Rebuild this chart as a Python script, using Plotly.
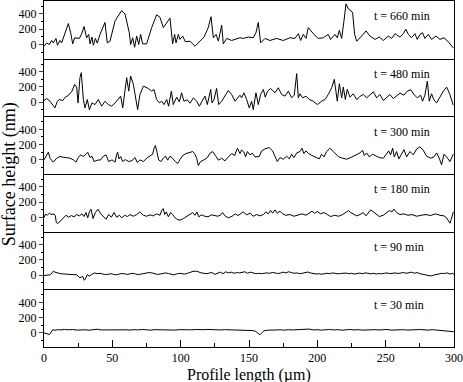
import plotly.graph_objects as go
from plotly.subplots import make_subplots

# profils de surface (x en µm, hauteur en nm)
x_660 = [0, 2, 3.9, 5.6, 6.8, 8.8, 9.8, 11.7, 12.9, 14.1, 15.6, 17.8, 19.5, 21, 22.4, 25.9, 27.6, 29.3,
         31.2, 32.7, 33.7, 35.1, 36.1, 37.6, 39, 41, 44.6, 46.3, 48.3, 52, 56.8, 59.3, 62.4, 63.4, 64.9,
         66.3, 67.8, 69.3, 70.7, 72.2, 75.1, 78.8, 82.4, 84.9, 87.3, 91, 92.2, 94.1, 95.6, 96.6, 98.3,
         99.5, 101.5, 103.4, 106.8, 110.5, 114.1, 117.1, 120.2, 122.2, 123.9, 125.9, 127.6, 130, 131.2,
         133.7, 137.3, 141, 143.4, 145.8, 149.5, 153.1, 155.1, 156.8, 158.5, 161.7, 165.3, 170.2, 175.1,
         180, 183.6, 186.1, 187.8, 189.7, 191.7, 193.4, 195.1, 197.5, 200.7, 204.4, 208, 209.7, 212.9,
         214.6, 216.1, 217.8, 219.5, 221, 222.7, 225.8, 227.3, 228.8, 232.4, 235.6, 238.5, 242.2, 245.3,
         248.3, 251.9, 254.4, 256.8, 260.5, 262.9, 264.8, 266.6, 269, 271.4, 273.1, 275.1, 277, 278.7,
         281.2, 283.6, 286.8, 289.7, 292.7, 295.8, 299.5]
h_660 = [-22, 22, 0, 53, 22, 80, -9, 53, 22, 80, 178, 275, 155, 9, 89, 80, 142, 235,
         89, 133, 9, 98, -9, 80, 18, 133, 289, 22, 44, 311, 444, 400, 155, 0, 89,
         -36, 111, 0, 133, 9, 9, 222, 390, 355, 222, 311, 346, 9, 133, 22, 133,
         67, 111, 36, 44, -22, 44, 98, 222, 364, 89, 133, 44, 253, 9,
         80, 53, 80, 89, 80, 98, 89, 155, 289, 22, 80, 53, 80, 53,
         89, 80, 142, 53, 133, 80, 222, 178, 133, 80, 89, 133, 67, 133,
         89, 186, 80, 311, 533, 466, 422, 133, 44, 111, 178, 111, 67, 98,
         53, 111, 80, 142, 98, 142, 200, 133, 89, 142, 67, 133, 155, 80,
         133, 67, 111, 67, 89, 36, -44]

x_480 = [0, 2, 4.4, 6.3, 8, 9.8, 11.2, 13.7, 15.6, 18, 20.5, 22.4, 23.9, 24.9, 26.3, 27.3, 28.8, 30,
         31.7, 33.2, 35.1, 37.3, 39.8, 42.2, 44.6, 47.1, 49.5, 52, 54.4, 56.1, 57.6, 59.3, 60.5, 62,
         63.4, 65.4, 66.8, 68.5, 70.2, 72.7, 76.3, 78.8, 80.5, 82.4, 84.4, 86.1, 87.8, 89.8, 91.2, 93.2,
         94.6, 97.1, 99, 100.7, 102.4, 104.9, 106.8, 109.3, 111.7, 113.7, 115.6, 117.8, 119.5, 121, 122,
         122.9, 124.4, 126.3, 127.8, 130, 132.4, 134.9, 137.3, 139.8, 143.4, 144.6, 146.3, 148.3, 150.2,
         151.9, 153.1, 155.1, 156.8, 158.5, 160.5, 161.9, 163.6, 165.8, 169, 171.4, 173.9, 176.3, 178.8,
         181.2, 183.1, 184.9, 186.1, 187.3, 189.2, 191.7, 194.1, 197, 200, 203.1, 205.6, 208, 210.5,
         212.4, 213.6, 214.6, 216.1, 217.8, 219, 220.5, 221.9, 223.9, 226.3, 228.8, 231.2, 233.6, 236.1,
         239, 241, 243.4, 245.8, 248.3, 250.7, 253.1, 255.6, 258, 260.5, 263.4, 265.8, 268.3, 270.7,
         273.1, 275.6, 277, 278.7, 280.5, 281.9, 283.6, 285.3, 287.3, 289.7, 292.2, 294.6, 297, 299.5]
h_480 = [22, 48, 13, -31, -75, 13, 35, 22, 66, 92, 145, 233, 198, -9, 321, 387, 35, -75,
         35, -97, -9, -31, 35, -53, 13, -31, -53, -9, 35, 79, -75, 167, 321, 145,
         343, 233, 57, -97, 101, 211, 180, 145, 167, 35, -9, 13, -31, 35, -53, 145,
         -31, 66, 4, 123, 13, 31, -13, 57, 13, -53, 13, 79, -31, 110, 167,
         -9, 35, 180, -31, 13, 79, 154, 101, 13, 92, 57, 123, 35, -75,
         13, -97, 123, -31, 101, 167, 66, 145, 180, 123, 189, 101, 79, 145,
         57, 92, 374, 57, 110, 57, 79, 35, 13, -31, 13, 35, 101, 189,
         299, 145, 13, 242, 57, 198, 35, 167, 66, 110, 35, 75, 101, 57,
         110, 136, 57, 101, 22, 66, 101, 48, 84, 119, 92, 145, 163, 101,
         57, 92, 13, 92, 277, 13, 110, 31, -9, 66, 145, 198, 101, -40]

x_300 = [0, 1.5, 3.2, 4.4, 6.8, 9.3, 11.7, 14.1, 16.6, 19, 21.5, 23.4, 25.1, 26.8, 28.8, 30.7, 32, 33.7,
         35.1, 36.6, 39, 41.5, 43.4, 45.4, 47.3, 49.8, 52, 53.2, 53.9, 54.9, 56.1, 57.6, 59.5, 62, 64.4,
         66.6, 68.3, 70.2, 72.7, 75.1, 77.6, 79.5, 80.5, 81.5, 82.7, 83.9, 85.6, 87.3, 89, 90.5, 92.2,
         94.1, 96.1, 97.8, 99.5, 101.5, 103.9, 106.3, 108.8, 110.2, 111.7, 112.9, 114.6, 117.1, 119.5,
         121.5, 123.4, 125.4, 127.6, 130, 132.4, 134.9, 137.3, 139.5, 141.5, 143.4, 144.6, 146.3, 147.5,
         148.8, 150.7, 152.4, 154.4, 157.5, 159.2, 161.7, 164.8, 167.3, 169, 170.7, 172.7, 175.1, 177.5,
         179.5, 181.2, 182.9, 184.9, 187.3, 188.8, 190.2, 191.7, 193.6, 196.1, 198.5, 201.4, 203.1, 204.9,
         206.8, 209.2, 211.7, 213.6, 215.6, 218.5, 221.4, 224.4, 226.8, 229.2, 231.2, 233.1, 234.4, 236.1,
         238, 240.5, 242.9, 245.3, 248.3, 250.7, 252.2, 253.6, 255.1, 256.3, 258, 259.7, 261.7, 263.4,
         265.3, 267.8, 270.2, 272.7, 275.1, 277.5, 280, 282.9, 285.3, 287.3, 289.2, 290.9, 292.7, 294.6,
         297, 299.5]
h_300 = [0, 44, 100, 22, -30, 22, 44, 35, 30, 22, 0, -30, 30, 65, 44, 83, 100, 30,
         48, -22, -4, 0, 48, 65, -22, 0, -30, 74, 100, 13, 44, -22, 4, -22, -9,
         30, -35, 0, -22, 22, 48, 74, 152, 187, 100, 0, -22, 22, 48, -4, 48,
         22, -22, -48, 4, 57, 83, 100, 109, 83, 22, -74, -22, 0, 30,
         87, 109, 57, -4, 22, -13, 39, 83, 57, 152, 83, 130, 100, 39,
         109, 65, 87, 39, 44, 117, 144, 161, 117, 57, -22, 30, 9, 48,
         13, 74, 30, 91, 109, 152, 83, 117, 83, 57, 39, 13, 74, 39,
         109, 152, 109, 74, 39, 22, 9, 30, 48, 74, 91, 126, 57, 91,
         39, 74, 57, 30, 22, 74, 117, 65, 152, 39, 109, 13, 74, 135,
         39, 109, 65, 144, 170, 126, 48, 22, 39, 91, 22, -65, 74, 39,
         -22, 74]

x_180 = [0, 1, 2.4, 3.9, 5.6, 7.3, 8.3, 9, 10.2, 12.2, 14.1, 16.1, 18, 20, 22, 23.9, 25.9, 27.8, 29.3,
         30.7, 32, 33.2, 34.4, 35.9, 37.6, 39.5, 41.5, 43.4, 45.4, 47.3, 49.3, 51.2, 53.2, 55.1, 57.1,
         59, 61, 62.9, 65.4, 67.8, 70.2, 72.7, 75.1, 77.6, 80, 82.4, 84.9, 86.3, 87.3, 88.3, 89.5, 91,
         92.7, 94.1, 95.9, 97.6, 99.5, 102, 104.4, 106.8, 108.8, 110.5, 111.9, 113.2, 115.1, 117.6, 120,
         122.4, 124.9, 127.3, 129.3, 130.7, 132.7, 135.1, 137.6, 140, 142, 145.8, 148.3, 150.7, 153.1,
         155.6, 158, 160.5, 162.4, 164.1, 165.8, 167.3, 169, 170.7, 172.7, 174.6, 177, 180, 182.9, 185.8,
         188.8, 191.7, 194.1, 196.1, 198, 200, 202.4, 204.9, 207.3, 209.7, 212.6, 215.6, 218.5, 220.9,
         222.9, 224.4, 226.3, 228.8, 231.2, 233.6, 235.6, 237.5, 239, 241, 242.9, 245.3, 248.3, 250.7,
         252.7, 254.6, 256.1, 258, 260.5, 263.4, 266.3, 269.2, 272.7, 276.1, 279.5, 282.9, 286.3, 289.7,
         292.7, 294.6, 296.1, 297, 298, 299, 299.5]
h_180 = [0, 44, 30, 57, 39, 48, 22, -65, -78, -44, -4, 30, 4, 26, 9, 39, 22, 48, 13,
         65, -4, 74, 109, -13, 65, 109, 48, 13, -22, 39, 4, 65, 4, 30, -4,
         30, 13, 39, 17, 39, 74, 30, 17, 35, 22, 48, 30, 100, 117, 39, 74, 9,
         65, 39, -4, -26, -35, -13, 13, 35, 65, 30, 74, 9, 35, 17, 9,
         35, 26, 17, 35, 65, 17, -4, 17, 48, 26, 74, 35, 57, 17,
         39, 22, 39, 74, 48, 91, 57, 100, 57, 83, 48, 30, 39, 17, 35,
         48, 30, 61, 83, 57, 78, 48, 65, 39, 13, 30, 17, 39, 65,
         91, 65, 48, 22, 39, 65, 22, 61, 100, 74, 48, 13, 30, 57,
         91, 74, 109, 65, 39, 48, 30, 39, 17, 30, 39, 26, 48, 30,
         22, -4, -48, -74, -22, 30, 74]

x_90 = [0, 2, 4, 5, 6.8, 8, 10, 12, 15, 18, 21, 24, 26.3, 27.3, 28.3, 29.5, 30.7, 31.7, 33, 35, 37,
        39, 41, 43, 45, 47, 49, 51, 53, 55, 57, 59, 61, 63, 65, 67, 69, 71, 73, 75, 77, 79, 81, 83,
        85, 87, 89, 91, 93, 95, 97, 99, 101, 103, 105, 107, 109, 111.7, 113, 115, 117, 119, 121, 123,
        125, 127, 129, 131, 133, 135, 137, 139, 141, 143, 145, 147, 149, 151, 153, 155, 157, 159, 161,
        163, 165, 167, 169, 171, 173, 175, 177, 179, 181, 183, 185, 187, 189, 191, 193, 195, 197, 199,
        201, 203, 205, 207, 209, 211, 213, 215, 217, 219, 221, 223, 225, 227, 229, 231, 233, 235, 237,
        239, 241, 243, 245, 247, 249, 251, 253, 255, 257, 259, 261, 263, 265, 267, 269, 271, 273, 275,
        277, 279, 281, 283, 285, 287, 289, 291, 293, 295, 297, 299, 300]
h_90 = [-5, -3, 5, 10, 53, 40, 25, 20, 15, 10, 8, 5, -35, -20, -15, -66, -35, 9, -13, 10, 30,
        20, 25, 15, 8, 12, 20, 10, 5, 15, 22, 18, 10, 18, 25, 15, 8, 15, 20, 25, 35, 30, 18, 10,
        15, 25, 30, 22, 12, 5, 15, 25, 20, 15, 25, 35, 50, 53, 40, 30, 25, 20, 28, 35,
        10, 30, 40, 20, 45, 30, 40, 25, 35, 30, 35, 45, 25, 40, 30, 20, 25, 20, 25,
        30, 25, 35, 30, 22, 28, 40, 30, 45, 35, 25, 30, 20, 25, 35, 42, 30, 25, 15,
        20, 12, 18, 25, 20, 30, 25, 18, 22, 30, 28, 20, 25, 15, 22, 28, 20, 30, 25,
        18, 25, 15, 22, 18, 25, 30, 20, 25, 30, 22, 28, 35, 25, 30, 40, 25, 35, 20,
        10, 5, -5, -10, 0, 10, 20, 25, 22, 30, 15, 25, 10]

x_30 = [0, 2, 4, 5, 6.3, 8, 10, 12, 15, 18, 21, 24, 27, 30, 33, 36, 39, 42, 45, 48, 51, 54, 57, 60,
        63, 66, 69, 72, 75, 78, 81, 84, 87, 90, 93, 96, 99, 102, 105, 108, 111, 114, 117, 120, 123,
        126, 129, 132, 135, 138, 141, 144, 147, 150, 153, 155, 157, 158, 159.5, 161, 164, 167, 170,
        173, 176, 179, 182, 185, 188, 191, 194, 197, 200, 203, 206, 209, 212, 215, 218, 221, 224, 227,
        230, 233, 236, 239, 242, 245, 248, 251, 254, 257, 260, 263, 266, 269, 272, 275, 278, 281, 284,
        287, 290, 293, 296, 298, 300]
h_30 = [0, -13, -22, 4, 40, 35, 42, 38, 45, 40, 44, 36, 42, 40, 35, 42, 48, 38, 40, 35, 42, 38, 44, 40,
        36, 42, 38, 45, 40, 36, 42, 40, 44, 38, 40, 36, 42, 38, 35, 40, 44, 38, 42, 45, 40,
        44, 38, 42, 40, 36, 40, 35, 38, 32, 30, 18, -10, -25, 5, 28, 35, 38, 32,
        40, 36, 42, 38, 40, 45, 40, 50, 38, 42, 36, 40, 44, 38, 42, 35, 40, 44, 38,
        42, 36, 40, 35, 42, 38, 40, 44, 36, 40, 38, 42, 36, 40, 38, 44, 40, 36, 42,
        38, 35, 32, 30, 20, 15]

profils = [("t = 660 min", x_660, h_660), ("t = 480 min", x_480, h_480),
           ("t = 300 min", x_300, h_300), ("t = 180 min", x_180, h_180),
           ("t = 90 min", x_90, h_90), ("t = 30 min", x_30, h_30)]

fig = make_subplots(rows=6, cols=1, shared_xaxes=True, vertical_spacing=0)

for i, (label, xs, hs) in enumerate(profils):
    row = i + 1
    fig.add_trace(go.Scatter(x=xs, y=hs, mode="lines", line=dict(color="black", width=1),
                             showlegend=False), row=row, col=1)
    fig.update_yaxes(range=[-185, 570], tickvals=[0, 200, 400], ticks="outside", ticklen=4,
                     minor=dict(dtick=100, tick0=0, ticks="outside", ticklen=2, tickcolor="black"),
                     showline=True, mirror=True, linecolor="black", linewidth=1,
                     showgrid=False, zeroline=False, tickfont=dict(size=12), row=row, col=1)
    last = row == 6
    # une seule ligne de séparation entre deux panneaux : ligne du haut seulement pour le premier
    fig.update_xaxes(range=[0, 300], dtick=50, showline=True, mirror=(row == 1), linecolor="black",
                     linewidth=1, showgrid=False, zeroline=False,
                     ticks="inside" if last else "", ticklen=7, tickcolor="black",
                     minor=dict(dtick=25, ticks="inside" if last else "", ticklen=4, tickcolor="black"),
                     showticklabels=last, tickfont=dict(size=12), row=row, col=1)
    yref = "y" if row == 1 else "y%d" % row
    fig.add_annotation(x=240, y=370, xref="x" if row == 1 else "x%d" % row, yref=yref,
                       text=label, showarrow=False, xanchor="left", yanchor="middle",
                       font=dict(size=12))

fig.add_annotation(text="Surface height (nm)", xref="paper", yref="paper", x=-0.085, y=0.5,
                   xanchor="center", yanchor="middle", textangle=-90, showarrow=False,
                   font=dict(size=18))
fig.add_annotation(text="Profile length (\u00b5m)", xref="paper", yref="paper", x=0.5, y=-0.05,
                   xanchor="center", yanchor="top", showarrow=False, font=dict(size=16))

fig.update_layout(width=463, height=382, margin=dict(l=44, r=9, t=1, b=35),
                  plot_bgcolor="white", paper_bgcolor="white",
                  font=dict(family="Liberation Serif", color="black"))

# la page html a une marge de 8 px par défaut : on la retire
fig.write_html("out.html", config={"displayModeBar": False},
               post_script="document.body.style.margin='0';")
